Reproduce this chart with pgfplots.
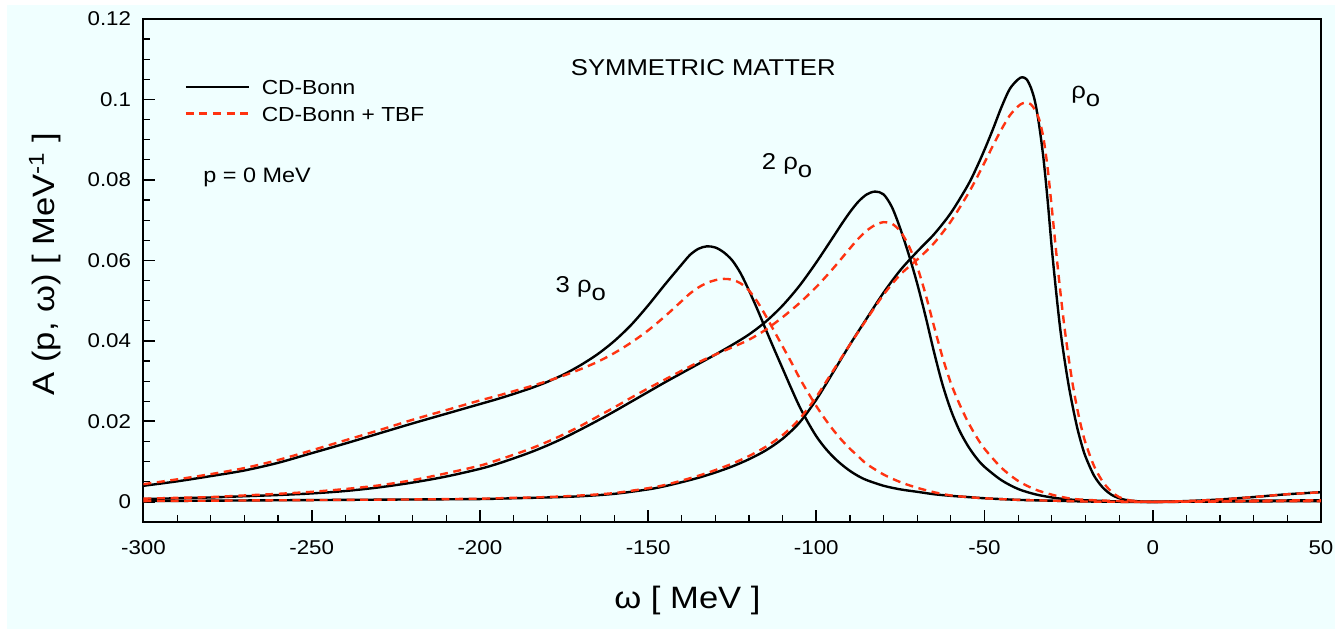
\documentclass[border=0pt]{standalone}
\usepackage{fontspec}
\setmainfont{Liberation Sans}[FakeStretch=1.12]
\usepackage{pgfplots}
\pgfplotsset{compat=1.18}
\definecolor{bgcyan}{HTML}{F0FFFF}
\definecolor{tbfred}{HTML}{FF3311}

\begin{document}
\begin{tikzpicture}
% page background
\fill[white] (-72pt,-53.5pt) rectangle (598pt,262pt);
\fill[bgcyan] (-68.5pt,-53.5pt) rectangle (598pt,259.5pt);
\begin{axis}[
  scale only axis, width=591pt, height=252.5pt,
  xmin=-300, xmax=50, ymin=-0.005, ymax=0.12,
  xtick={-300,-250,...,50},
  ytick={0,0.02,0.04,0.06,0.08,0.1,0.12},
  minor x tick num=4, minor y tick num=3,
  xtick pos=bottom, ytick pos=left, tick align=inside,
  major tick length=6pt, minor tick length=3.5pt,
  axis line style={line width=1pt},
  major tick style={line width=0.9pt, black},
  minor tick style={line width=0.55pt, black},
  scaled y ticks=false,
  /pgf/number format/assume math mode=true,
  yticklabel style={/pgf/number format/fixed, /pgf/number format/precision=2,
    font=\fontsize{10}{12}\selectfont, xshift=-2.7pt},
  xticklabel style={font=\fontsize{10}{12}\selectfont, yshift=-5.7pt},
  xlabel={ω [ MeV ]},
  ylabel={A (p, ω) [ MeV\textsuperscript{-1} ]},
  xlabel style={at={(axis description cs:0.462,-0.1564)}, anchor=center,
    font=\fontsize{15.5}{18}\selectfont},
  ylabel style={at={(axis description cs:-0.0838,0.513)}, anchor=center,
    font=\fontsize{15.5}{18}\selectfont},
  legend style={draw=none, fill=none, at={(axis description cs:0,1)},
    anchor=north west, xshift=20.5pt, yshift=-30.25pt, inner sep=0pt,
    row sep=6pt, column sep=6pt, font=\fontsize{10.2}{12}\selectfont,
    nodes={inner sep=0pt, text height=7.4pt, text depth=0pt}},
  legend cell align=left,
  legend image code/.code={\draw[#1] (0pt,0pt) -- (31.5pt,0pt);},
  every axis plot/.append style={line width=1.2pt, smooth},
]
% CD-Bonn, rho_0
\addplot[black] coordinates {
(-300,0.0002) (-280,0.0003) (-260,0.0004) (-240,0.0005) (-220,0.0006)
(-200,0.0007) (-190,0.0009) (-180,0.0011) (-170,0.0014) (-160,0.0020)
(-150,0.0031) (-145,0.0039) (-140,0.0049) (-135,0.0060) (-130,0.0073)
(-125,0.0088) (-120,0.0106) (-115,0.0128) (-110,0.0157) (-105,0.0197)
(-100,0.0254) (-95,0.0322) (-90,0.0391) (-85,0.0456) (-80,0.0520)
(-75,0.0576) (-70,0.0622) (-65,0.0665) (-60,0.0718) (-55,0.0786)
(-52.5,0.0828) (-50,0.0875) (-47.5,0.0926) (-45,0.0980) (-42.5,0.1026)
(-40,0.1050) (-38.75,0.1055) (-37.5,0.1050) (-36.25,0.1030) (-35,0.0995)
(-33.75,0.0935) (-32.5,0.0855) (-31.25,0.0750) (-30,0.0630) (-28.75,0.0525)
(-27.5,0.0430) (-26.25,0.0355) (-25,0.0290) (-23.75,0.0235) (-22.5,0.0186)
(-21.25,0.0146) (-20,0.0113) (-17.5,0.0066) (-15,0.0037) (-12.5,0.0019)
(-10,0.0009) (-7.5,0.0004) (-5,0.0002) (0,0) (25,0.0001) (50,0.0002)};
\addlegendentry{CD-Bonn}
% CD-Bonn, 2 rho_0
\addplot[black, forget plot] coordinates {
(-300,0.0007) (-290,0.0009) (-280,0.0011) (-270,0.0014) (-260,0.0017)
(-250,0.0021) (-240,0.0027) (-230,0.0036) (-220,0.0048) (-210,0.0063)
(-200,0.0082) (-195,0.0094) (-190,0.0108) (-185,0.0123) (-180,0.0140)
(-175,0.0159) (-170,0.0180) (-165,0.0202) (-160,0.0225) (-155,0.0249)
(-150,0.0273) (-145,0.0297) (-140,0.0320) (-135,0.0343) (-130,0.0366)
(-125,0.0390) (-120,0.0416) (-115,0.0448) (-110,0.0488) (-105,0.0537)
(-100,0.0595) (-95,0.0658) (-92.5,0.0690) (-90,0.0720) (-87.5,0.0746)
(-85,0.0764) (-82.5,0.0771) (-80,0.0764) (-77.5,0.0732) (-75,0.0678)
(-72.5,0.0614) (-70,0.0542) (-67.5,0.0460) (-65,0.0372) (-62.5,0.0292)
(-60,0.0228) (-57.5,0.0178) (-55,0.0140) (-52.5,0.0110) (-50,0.0087)
(-45,0.0054) (-40,0.0032) (-35,0.0019) (-30,0.0011) (-25,0.0006)
(-20,0.0004) (-10,0.0001) (0,0) (10,0.0001) (30,0.0003) (50,0.0004)};
% CD-Bonn, 3 rho_0
\addplot[black, forget plot] coordinates {
(-300,0.0040) (-290,0.0051) (-280,0.0064) (-270,0.0078) (-260,0.0097)
(-250,0.0121) (-240,0.0145) (-230,0.0170) (-220,0.0195) (-210,0.0219)
(-200,0.0243) (-195,0.0255) (-190,0.0268) (-185,0.0282) (-180,0.0298)
(-175,0.0317) (-170,0.0340) (-165,0.0367) (-160,0.0400) (-155,0.0440)
(-150,0.0488) (-145,0.0540) (-140,0.0590) (-137.5,0.0614) (-135,0.0629)
(-132.5,0.0635) (-130,0.0632) (-127.5,0.0620) (-125,0.0600) (-122.5,0.0568)
(-120,0.0525) (-117.5,0.0478) (-115,0.0428) (-112.5,0.0379) (-110,0.0331)
(-107.5,0.0283) (-105,0.0237) (-102.5,0.0198) (-100,0.0163) (-97.5,0.0135)
(-95,0.0112) (-92.5,0.0093) (-90,0.0077) (-87.5,0.0064) (-85,0.0054)
(-80,0.0040) (-75,0.0031) (-70,0.0025) (-65,0.0019) (-60,0.0015)
(-55,0.0012) (-50,0.0009) (-40,0.0005) (-30,0.0003) (-20,0.0001)
(-10,0.00002) (0,0) (10,0.0002) (20,0.0006) (30,0.0012) (40,0.0019) (50,0.0024)};
% CD-Bonn + TBF, rho_0
\addplot[tbfred, dash pattern=on 4pt off 2.8pt] coordinates {
(-300,0.0002) (-280,0.0003) (-260,0.0004) (-240,0.0005) (-220,0.0006)
(-200,0.0008) (-190,0.0010) (-180,0.0012) (-170,0.0016) (-160,0.0022)
(-150,0.0034) (-145,0.0042) (-140,0.0053) (-135,0.0065) (-130,0.0079)
(-125,0.0095) (-120,0.0114) (-115,0.0137) (-110,0.0166) (-105,0.0206)
(-100,0.0261) (-95,0.0326) (-90,0.0391) (-85,0.0454) (-80,0.0515)
(-75,0.0565) (-70,0.0602) (-65,0.0643) (-60,0.0697) (-55,0.0764)
(-52.5,0.0802) (-50,0.0843) (-47.5,0.0885) (-45,0.0925) (-42.5,0.0960)
(-40,0.0983) (-38.75,0.0990) (-37.5,0.0992) (-36.25,0.0988) (-35,0.0974)
(-33.75,0.0950) (-32.5,0.0905) (-31.25,0.0830) (-30,0.0730) (-28.75,0.0625)
(-27.5,0.0525) (-26.25,0.0435) (-25,0.0358) (-23.75,0.0290) (-22.5,0.0234)
(-21.25,0.0186) (-20,0.0147) (-17.5,0.0090) (-15,0.0052) (-12.5,0.0027)
(-10,0.0012) (-7.5,0.0005) (-5,0.0002) (0,0) (25,0.0001) (50,0.0002)};
\addlegendentry{CD-Bonn + TBF}
% CD-Bonn + TBF, 2 rho_0
\addplot[tbfred, dash pattern=on 4pt off 2.8pt, forget plot] coordinates {
(-300,0.0008) (-290,0.0010) (-280,0.0012) (-270,0.0016) (-260,0.0020)
(-250,0.0025) (-240,0.0032) (-230,0.0041) (-220,0.0054) (-210,0.0071)
(-200,0.0090) (-195,0.0103) (-190,0.0117) (-185,0.0132) (-180,0.0149)
(-175,0.0168) (-170,0.0189) (-165,0.0212) (-160,0.0235) (-155,0.0259)
(-150,0.0282) (-145,0.0304) (-140,0.0326) (-135,0.0347) (-130,0.0366)
(-125,0.0384) (-120,0.0403) (-115,0.0428) (-110,0.0459) (-105,0.0494)
(-100,0.0534) (-95,0.0580) (-90,0.0630) (-87.5,0.0654) (-85,0.0674)
(-82.5,0.0688) (-80,0.0695) (-77.5,0.0691) (-75,0.0672) (-72.5,0.0636)
(-70,0.0584) (-67.5,0.0515) (-65,0.0436) (-62.5,0.0360) (-60,0.0295)
(-57.5,0.0244) (-55,0.0200) (-52.5,0.0163) (-50,0.0132) (-45,0.0085)
(-40,0.0052) (-35,0.0031) (-30,0.0018) (-25,0.0009) (-20,0.0005)
(-10,0.0002) (0,0) (10,0.0001) (30,0.0003) (50,0.0004)};
% CD-Bonn + TBF, 3 rho_0
\addplot[tbfred, dash pattern=on 4pt off 2.8pt, forget plot] coordinates {
(-300,0.0044) (-290,0.0056) (-280,0.0069) (-270,0.0084) (-260,0.0104)
(-250,0.0128) (-240,0.0153) (-230,0.0178) (-220,0.0204) (-210,0.0228)
(-200,0.0252) (-195,0.0263) (-190,0.0275) (-185,0.0287) (-180,0.0300)
(-175,0.0314) (-170,0.0330) (-165,0.0348) (-160,0.0370) (-155,0.0396)
(-150,0.0426) (-145,0.0461) (-140,0.0499) (-137.5,0.0518) (-135,0.0533)
(-132.5,0.0544) (-130,0.0551) (-127.5,0.0554) (-125,0.0552) (-122.5,0.0543)
(-120,0.0525) (-117.5,0.0497) (-115,0.0462) (-112.5,0.0424) (-110,0.0386)
(-107.5,0.0348) (-105,0.0308) (-102.5,0.0272) (-100,0.0238) (-97.5,0.0207)
(-95,0.0179) (-92.5,0.0154) (-90,0.0132) (-87.5,0.0113) (-85,0.0094)
(-80,0.0068) (-75,0.0049) (-70,0.0035) (-65,0.0024) (-60,0.0016)
(-55,0.0012) (-50,0.0009) (-40,0.0005) (-30,0.0003) (-20,0.0001)
(-10,0.00002) (0,0) (10,0.0002) (20,0.0006) (30,0.0012) (40,0.0019) (50,0.0024)};

\node[font=\fontsize{11.5}{13}\selectfont] at (axis cs:-133.6,0.108) {SYMMETRIC MATTER};
\node[font=\fontsize{10.5}{12}\selectfont] at (axis cs:-266.2,0.0807) {p = 0 MeV};
\node[font=\fontsize{11.5}{13}\selectfont] at (axis cs:-19.9,0.1008) {ρ\raisebox{-0.65ex}{o}};
\node[font=\fontsize{11.5}{13}\selectfont] at (axis cs:-108.7,0.0835) {2 ρ\raisebox{-0.65ex}{o}};
\node[font=\fontsize{11.5}{13}\selectfont] at (axis cs:-170,0.0530) {3 ρ\raisebox{-0.65ex}{o}};
\end{axis}
\end{tikzpicture}
\end{document}
